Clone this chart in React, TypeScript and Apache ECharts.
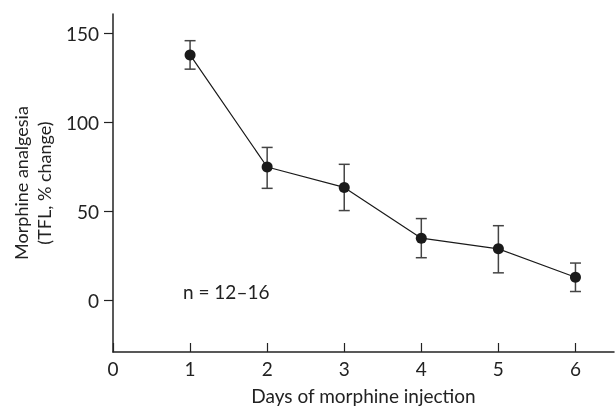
import React, { useEffect, useRef } from "react";
import * as echarts from "echarts";

const days = [1, 2, 3, 4, 5, 6];
const means = [138, 75, 63.5, 35, 29, 13];
const upper = [146, 86, 76.5, 46, 42, 21];
const lower = [130, 63, 50.5, 24, 15.5, 5];
const xTicks = [0, 1, 2, 3, 4, 5, 6];
const yTicks = [0, 50, 100, 150];

const FONT = "Lato";

export default function App() {
  const ref = useRef<HTMLDivElement>(null);
  useEffect(() => {
    const chart = echarts.init(ref.current!, null, { renderer: "svg" });
    const errData = days.map((d, i) => [d, lower[i], upper[i]]);
    chart.setOption({
      animation: false,
      textStyle: { fontFamily: FONT },
      grid: { left: 113, right: 1, top: 14, bottom: 55, containLabel: false },
      xAxis: {
        type: "value",
        min: 0,
        max: 6.5,
        name: "Days of morphine injection",
        nameLocation: "middle",
        nameGap: 34,
        nameTextStyle: { fontSize: 19, color: "#222", fontFamily: FONT },
        axisLine: { onZero: false, lineStyle: { color: "#222", width: 1.5 } },
        axisTick: { inside: true, length: 9, customValues: xTicks, lineStyle: { color: "#222", width: 1.2 } },
        axisLabel: { customValues: xTicks, fontSize: 19, color: "#222", margin: 7, fontFamily: FONT },
        splitLine: { show: false },
      },
      yAxis: {
        type: "value",
        min: -29,
        max: 161,
        axisLine: { show: true, onZero: false, lineStyle: { color: "#222", width: 1.5 } },
        axisTick: { show: true, inside: false, length: 9, customValues: yTicks, lineStyle: { color: "#222", width: 1.2 } },
        axisLabel: { customValues: yTicks, fontSize: 19, color: "#222", margin: 14, fontFamily: FONT },
        splitLine: { show: false },
      },
      graphic: [
        {
          type: "text",
          x: 32,
          y: 183,
          rotation: Math.PI / 2,
          style: {
            text: "Morphine analgesia\n(TFL, % change)",
            fontSize: 18,
            fontFamily: FONT,
            fill: "#222",
            align: "center",
            verticalAlign: "middle",
            lineHeight: 23,
          },
        },
        {
          type: "text",
          x: 183,
          y: 291,
          style: {
            text: "n = 12–16",
            fontSize: 19,
            fontFamily: FONT,
            fill: "#222",
            align: "left",
            verticalAlign: "middle",
          },
        },
      ],
      series: [
        {
          type: "custom",
          data: errData,
          z: 1,
          renderItem: (params: any, api: any) => {
            const x = api.value(0);
            const lo = api.coord([x, api.value(1)]);
            const hi = api.coord([x, api.value(2)]);
            const hw = 5.5;
            const style = { stroke: "#444", lineWidth: 1.5 };
            return {
              type: "group",
              children: [
                { type: "line", shape: { x1: lo[0], y1: lo[1], x2: hi[0], y2: hi[1] }, style },
                { type: "line", shape: { x1: lo[0] - hw, y1: lo[1], x2: lo[0] + hw, y2: lo[1] }, style },
                { type: "line", shape: { x1: hi[0] - hw, y1: hi[1], x2: hi[0] + hw, y2: hi[1] }, style },
              ],
            };
          },
        },
        {
          type: "line",
          data: days.map((d, i) => [d, means[i]]),
          z: 2,
          symbol: "circle",
          symbolSize: 11,
          lineStyle: { color: "#1a1a1a", width: 1.2 },
          itemStyle: { color: "#1a1a1a" },
        },
      ],
    });
    return () => chart.dispose();
  }, []);
  return <div ref={ref} style={{ position: "fixed", left: 0, top: 0, width: 615, height: 410 }} />;
}
